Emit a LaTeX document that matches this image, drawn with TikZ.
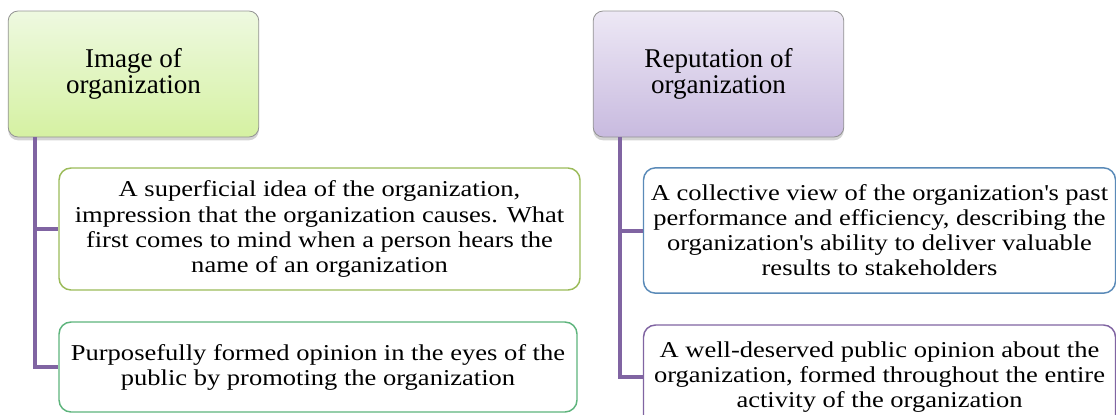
\documentclass[tikz,border=0pt]{standalone}
\usepackage{fontspec}
\setmainfont{Liberation Serif}
\newfontfamily\leaffont[FakeStretch=1.17]{Liberation Serif}
\usepackage{tikz}
\usetikzlibrary{shadows}
\definecolor{imgtop}{HTML}{EEF9E0}
\definecolor{imgbot}{HTML}{D5F1A2}
\definecolor{reptop}{HTML}{EDE8F5}
\definecolor{repbot}{HTML}{C8BADF}
\definecolor{linkviolet}{HTML}{8064A2}
\definecolor{olivegreen}{HTML}{9BBB59}
\definecolor{seagreen}{HTML}{5DB47C}
\definecolor{steelblue}{HTML}{5A8AB8}

\begin{document}
\begin{tikzpicture}[x=0.75pt, y=-0.75pt,
    headbox/.style={draw=gray!85, line width=0.6pt, rounded corners=7.5pt,
        minimum width=188pt, minimum height=94.5pt, align=center,
        font=\fontsize{20.3}{19.5}\selectfont,
        drop shadow={shadow xshift=0pt, shadow yshift=-2.5pt, opacity=0.35}},
    leafbox/.style={draw, fill=white, line width=1.1pt, rounded corners=9pt,
        align=center, font=\leaffont\fontsize{17}{18.8}\selectfont},
    branch/.style={linkviolet, line width=3pt}]

    \useasboundingbox (0,0) rectangle (1116,414);

    % Left column: image
    \node[headbox, top color=imgtop, bottom color=imgbot] (img) at (133.5,74)
        {Image of\\organization};
    \node[leafbox, draw=olivegreen, minimum width=390.75pt, minimum height=91.5pt]
        (imgA) at (319.5,229)
        {A superficial idea of the organization,\\
         impression that the organization causes. What\\
         first comes to mind when a person hears the\\
         name of an organization};
    \node[leafbox, draw=seagreen, minimum width=388.5pt, minimum height=67.5pt]
        (imgB) at (318,367)
        {Purposefully formed opinion in the eyes of the\\
         public by promoting the organization};

    % Right column: reputation
    \node[headbox, top color=reptop, bottom color=repbot] (rep) at (718.5,74)
        {Reputation of\\organization};
    \node[leafbox, draw=steelblue, minimum width=354pt, minimum height=94pt]
        (repA) at (879.5,230.5)
        {A collective view of the organization\textquotesingle s past\\
         performance and efficiency, describing the\\
         organization\textquotesingle s ability to deliver valuable\\
         results to stakeholders};
    \node[leafbox, draw=linkviolet, minimum width=354pt, minimum height=78pt]
        (repB) at (879.5,377)
        {A well-deserved public opinion about the\\
         organization, formed throughout the entire\\
         activity of the organization};

    % Connectors from the heads down to their items
    \draw[branch] ([xshift=20.25pt]img.south west) |- (imgA.west);
    \draw[branch] ([xshift=20.25pt]img.south west) |- (imgB.west);
    \draw[branch] ([xshift=20.25pt]rep.south west) |- (repA.west);
    \draw[branch] ([xshift=20.25pt]rep.south west) |- (repB.west);

\end{tikzpicture}
\end{document}
